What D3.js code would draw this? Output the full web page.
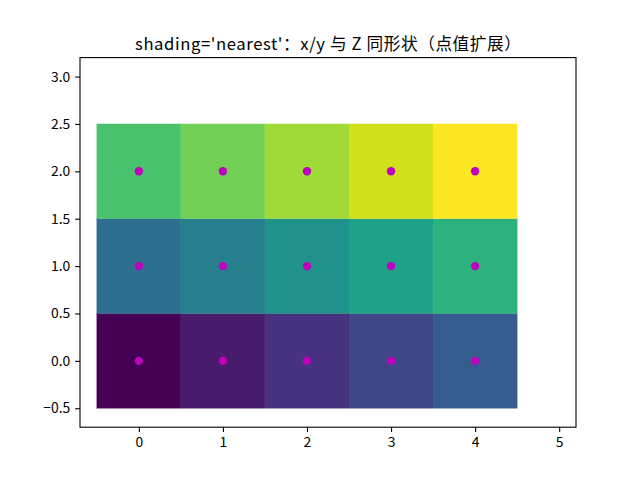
<!DOCTYPE html>
<html><head><meta charset="utf-8">
<script src="https://cdn.jsdelivr.net/npm/d3@7"></script>
<style>body{margin:0;background:#fff}</style>
</head><body>
<svg id="c" width="640" height="480"></svg>
<script>
const xs = [0, 1, 2, 3, 4];
const ys = [0, 1, 2];
const Z = [
  [0, 1, 2, 3, 4],
  [5, 6, 7, 8, 9],
  [10, 11, 12, 13, 14]
];
const xTicks = [0, 1, 2, 3, 4, 5];
const yTicks = [-0.5, 0.0, 0.5, 1.0, 1.5, 2.0, 2.5, 3.0];
const title = "shading='nearest'：x/y 与 Z 同形状（点值扩展）";

const W = 640, H = 480;
const m = {l: 80, r: 64, t: 57.6, b: 52.8};
const svg = d3.select("#c");
const font = "'Noto Sans CJK SC', 'DejaVu Sans', sans-serif";
const x = d3.scaleLinear().domain([-0.7, 5.2]).range([m.l, W - m.r]);
const y = d3.scaleLinear().domain([-0.7, 3.2]).range([H - m.b, m.t]);
const color = d3.scaleSequential(d3.interpolateViridis).domain([0, 14]);

const cells = [];
ys.forEach((yv, i) => xs.forEach((xv, j) => cells.push({x: xv, y: yv, z: Z[i][j]})));

svg.append("g").selectAll("rect").data(cells).join("rect")
  .attr("x", d => x(d.x - 0.5))
  .attr("y", d => y(d.y + 0.5))
  .attr("width", d => x(d.x + 0.5) - x(d.x - 0.5))
  .attr("height", d => y(d.y - 0.5) - y(d.y + 0.5))
  .attr("fill", d => color(d.z))
  .attr("stroke", d => color(d.z)).attr("stroke-width", 0.3);

svg.append("g").selectAll("circle").data(cells).join("circle")
  .attr("cx", d => x(d.x)).attr("cy", d => y(d.y))
  .attr("r", 4.2).attr("fill", "#bf00bf");

const xAxis = svg.append("g").attr("transform", `translate(0,${H - m.b})`)
  .call(d3.axisBottom(x).tickValues(xTicks).tickFormat(d3.format("d")).tickSize(4.86).tickPadding(4.9));
const yAxis = svg.append("g").attr("transform", `translate(${m.l},0)`)
  .call(d3.axisLeft(y).tickValues(yTicks).tickFormat(d => d3.format(".1f")(d).replace("-", "\u2212")).tickSize(4.86).tickPadding(4.9));
[xAxis, yAxis].forEach(a => {
  a.select(".domain").remove();
  a.selectAll("line").attr("stroke", "#000").attr("stroke-width", 1.1);
  a.selectAll("text").attr("font-family", font).attr("font-size", "13.9px").attr("fill", "#000");
});

svg.append("rect").attr("x", m.l).attr("y", m.t)
  .attr("width", W - m.l - m.r).attr("height", H - m.t - m.b)
  .attr("fill", "none").attr("stroke", "#000").attr("stroke-width", 1.1);

svg.append("text").attr("x", (m.l + W - m.r) / 2).attr("y", m.t - 8)
  .attr("text-anchor", "middle").attr("font-family", font)
  .attr("font-size", "16.67px").attr("fill", "#000")
  .attr("textLength", 386).attr("lengthAdjust", "spacing").text(title);
</script>
</body></html>
